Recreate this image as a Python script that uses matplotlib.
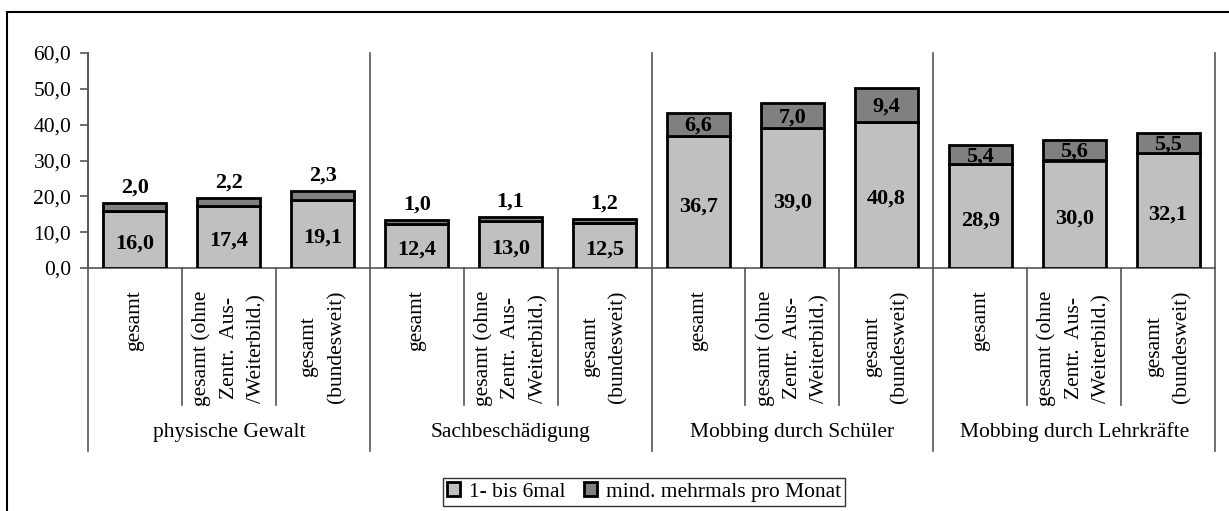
import numpy as np
import matplotlib.pyplot as plt
from matplotlib.patches import Rectangle

plt.rcParams['font.family'] = ['Liberation Serif', 'DejaVu Serif']
plt.rcParams['font.size'] = 15.5

groups = ["physische Gewalt", "Sachbeschädigung", "Mobbing durch Schüler", "Mobbing durch Lehrkräfte"]
subcats = ["gesamt", "gesamt (ohne\nZentr.  Aus-\n/Weiterbild.)", "gesamt\n(bundesweit)"]
series_names = ["1- bis 6mal", "mind. mehrmals pro Monat"]

# values per bar (groups x subcats, row by row)
lower = [16.0, 17.4, 19.1, 12.4, 13.0, 12.5, 36.7, 39.0, 40.8, 28.9, 30.0, 32.1]
upper = [2.0, 2.2, 2.3, 1.0, 1.1, 1.2, 6.6, 7.0, 9.4, 5.4, 5.6, 5.5]


def fmt(v):
    return f"{v:.1f}".replace(".", ",")


W, H = 1229, 511
fig = plt.figure(figsize=(W / 100, H / 100), dpi=100)
ax = fig.add_axes([88 / W, 1 - 268 / H, (1215 - 88) / W, (268 - 53) / H])

n = len(lower)
x = np.arange(n) + 0.5
b1 = ax.bar(x, lower, width=0.67, color="#c0c0c0", edgecolor="black", linewidth=2.0,
            label=series_names[0], zorder=3)
b2 = ax.bar(x, upper, bottom=lower, width=0.67, color="#808080", edgecolor="black",
            linewidth=2.0, label=series_names[1], zorder=3)

for xi, lo, up in zip(x, lower, upper):
    ax.annotate(fmt(lo), (xi, lo / 2), xytext=(0, -3), textcoords="offset points",
                ha="center", va="center", fontweight="bold", fontsize=16, zorder=4)
    if up >= 5:
        ax.annotate(fmt(up), (xi, lo + up / 2), xytext=(0, -1), textcoords="offset points",
                    ha="center", va="center", fontweight="bold", fontsize=16, zorder=4)
    else:
        ax.annotate(fmt(up), (xi, lo + up), xytext=(0, 4), textcoords="offset points",
                    ha="center", va="bottom", fontweight="bold", fontsize=16, zorder=4)

ax.set_xlim(0, n)
ax.set_ylim(0, 60)
ax.set_yticks(np.arange(0, 61, 10))
ax.set_yticklabels([fmt(v) for v in np.arange(0, 61, 10)])
ax.set_xticks([])
ax.tick_params(axis="y", direction="out", length=6, width=1.2, color="#555555", pad=6)
for s in ["top", "right"]:
    ax.spines[s].set_visible(False)
for s in ["left", "bottom"]:
    ax.spines[s].set_color("#555555")
    ax.spines[s].set_linewidth(1.2)

tr = ax.get_xaxis_transform()
for k in range(n + 1):
    if k % 3 == 0:
        ax.plot([k, k], [-0.851, 1], transform=tr, clip_on=False, color="#555555", lw=1.2)
    else:
        ax.plot([k, k], [-0.637, 0], transform=tr, clip_on=False, color="#555555", lw=1.2)

for i, xi in enumerate(x):
    ax.text(xi, -0.105, subcats[i % 3], transform=tr, rotation=90, ha="center", va="top",
            multialignment="center", linespacing=1.6)

for g, name in enumerate(groups):
    ax.text(3 * g + 1.5, -0.763, name, transform=tr, ha="center", va="center")

leg = fig.legend(handles=[b1, b2], loc="center", bbox_to_anchor=(644 / W, 1 - 492 / H), ncol=2,
                 frameon=True, fancybox=False, edgecolor="black", handlelength=0.6,
                 handleheight=0.6, handletextpad=0.4, columnspacing=0.9, borderpad=0.2)
leg.get_frame().set_linewidth(1.0)

fig.patches.append(Rectangle((7 / W, -0.1), 1.2, 1 - 12 / H + 0.1, transform=fig.transFigure,
                             fill=False, edgecolor="black", lw=1.5))

fig.savefig("out.png", dpi=100)
